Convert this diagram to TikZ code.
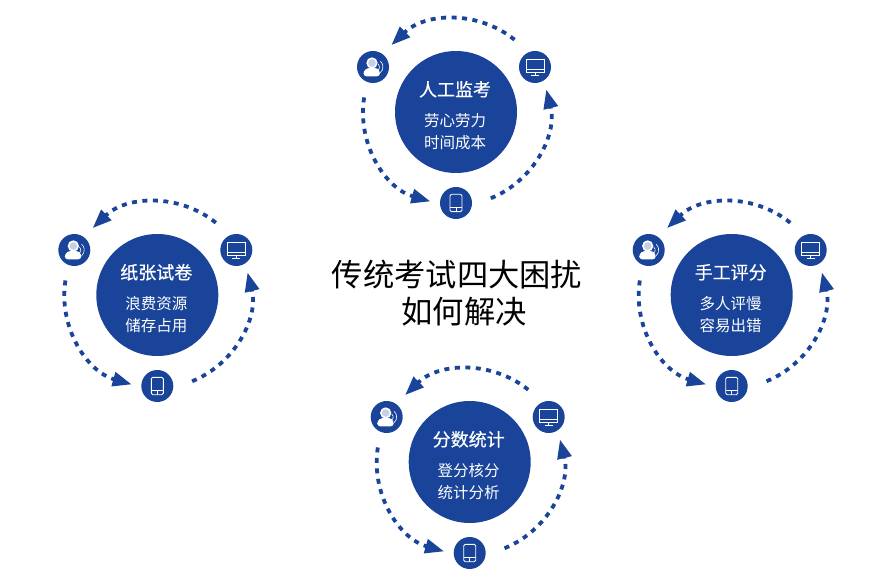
\documentclass[tikz,border=0pt]{standalone}
\usepackage{fontspec}
\setmainfont{Noto Sans CJK SC}
\newfontfamily\titlefont[FakeBold=0.5]{Noto Sans CJK SC}
\usepackage{xcolor}
\definecolor{examblue}{RGB}{25,68,153}
\usetikzlibrary{arrows.meta, positioning}

\begin{document}
\begin{tikzpicture}[
  x=1pt, y=1pt,
  core/.style={circle, fill=examblue, minimum size=122pt, inner sep=0pt},
  badge/.style={circle, fill=examblue, minimum size=32pt, inner sep=0pt},
  titletext/.style={text=white, inner sep=0pt, font=\fontsize{18}{18}\selectfont\titlefont},
  subtext/.style={text=white, inner sep=0pt, font=\fontsize{15.5}{16}\selectfont},
  headline/.style={text=black, inner sep=0pt, font=\fontsize{31.3}{32}\selectfont},
  flow/.style={examblue, line width=3.8pt, dash pattern=on 5pt off 5.5pt, -{Triangle[length=19pt, width=14pt]}},
  glyph/.style={white, line width=0.9pt},
  pics/trouble/.style n args={3}{code={
    % Nodes
    \node[core] (-core) at (0,0) {};
    \node[titletext] (-title) at (-1,22.7) {#1};
    \node[subtext] (-lineone) at (-1,-8.7) {#2};
    \node[subtext] (-linetwo) at (-1,-31) {#3};
    \node[badge] (-user) at (-83,45) {};
    \node[badge] (-screen) at (79,45) {};
    \node[badge] (-phone) at (0,-91) {};
    % Icons
    \draw[white, line width=1.6pt, fill=white!75!examblue] ([shift={(-1,4)}]-user.center) circle (4.8);
    \fill[white, rounded corners=3pt] ([shift={(-9.5,-9.3)}]-user.center) -- ++(0,5.5) -- ++(4.5,3) -- ++(8.5,0) -- ++(3.5,-3) -- ++(0,-5.5) -- cycle;
    \draw[white, line width=0.6pt] ([shift={(5.07,-3.06)}]-user.center) arc[start angle=-50, end angle=50, radius=4];
    \draw[white, line width=0.6pt] ([shift={(7.32,-5.75)}]-user.center) arc[start angle=-50, end angle=50, radius=7.5];
    \draw[glyph] ([shift={(-9,-5)}]-screen.center) rectangle ([shift={(9,8)}]-screen.center);
    \draw[white, line width=0.6pt] ([shift={(-9,-2)}]-screen.center) -- ([shift={(9,-2)}]-screen.center);
    \draw[glyph] ([shift={(0,-5)}]-screen.center) -- ([shift={(0,-8.5)}]-screen.center);
    \draw[glyph] ([shift={(-4,-8.8)}]-screen.center) -- ([shift={(4,-8.8)}]-screen.center);
    \draw[glyph, rounded corners=1.5pt] ([shift={(-6,-8.7)}]-phone.center) rectangle ([shift={(6,8.7)}]-phone.center);
    \draw[white, line width=0.6pt] ([shift={(-6,-4)}]-phone.center) -- ([shift={(6,-4)}]-phone.center);
    \draw[white, line width=0.6pt] ([shift={(0,-4)}]-phone.center) -- ([shift={(0,-8.7)}]-phone.center);
    % Flows
    \coordinate (-topstart) at (51:93);
    \coordinate (-leftstart) at (171:93);
    \coordinate (-rightstart) at (-68:93);
    \draw[flow] (-topstart) arc[start angle=51, end angle=134, radius=93];
    \draw[flow] (-leftstart) arc[start angle=171, end angle=254, radius=93];
    \draw[flow] (-rightstart) arc[start angle=-68, end angle=14, radius=93];
  }}
]
\useasboundingbox (0,0) rectangle (872,579);

\pic (watch) at (456,467) {trouble={人工监考}{劳心劳力}{时间成本}};
\pic (paper) at (157.3,284) {trouble={纸张试卷}{浪费资源}{储存占用}};
\pic (grade) at (731.7,284) {trouble={手工评分}{多人评慢}{容易出错}};
\pic (score) at (469.7,117) {trouble={分数统计}{登分核分}{统计分析}};

\node[headline] (question) at (457,304) {传统考试四大困扰};
\node[headline] (answer) at (464,267) {如何解决};

\end{tikzpicture}
\end{document}
